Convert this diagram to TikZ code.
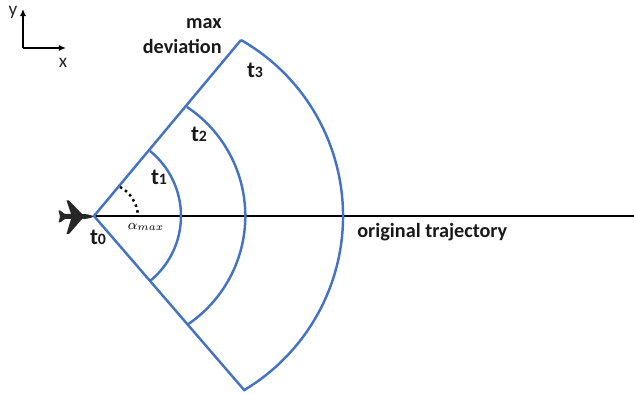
\documentclass[tikz,border=0pt]{standalone}
\usepackage{fontspec}
\setmainfont{Carlito}
\usetikzlibrary{arrows.meta}
\definecolor{sectorblue}{RGB}{68,114,196}
\tikzset{
  sector/.style={draw=sectorblue,line width=1.4pt},
  label/.style={font=\fontsize{11.5}{14.5}\selectfont\bfseries,inner sep=0pt,text=black!90},
  timelabel/.style={font=\fontsize{13}{15}\selectfont\bfseries,inner sep=0pt,text=black!90},
  axislabel/.style={font=\fontsize{11}{13}\selectfont,inner sep=0pt,text=black!85}
}
\newcommand{\tlabel}[1]{t{\fontsize{9}{10}\selectfont #1}}
\begin{document}
\begin{tikzpicture}[x=0.02cm,y=-0.02cm]
  \useasboundingbox (0,0) rectangle (634,394);
  \coordinate (O) at (94,216);
  \coordinate (T1) at (150,151);
  \coordinate (T2) at (187,107);
  \coordinate (T3) at (241,40);
  \coordinate (B3) at (245,391);
  \coordinate (E) at (634,216);
  \coordinate (DotA) at (120,187);
  \coordinate (DotB) at (138,215);
  \coordinate (Corner) at (23,48);
  \coordinate (AxisY) at (23,9);
  \coordinate (AxisX) at (66,48);
  % trajectory and plane
  \draw[line width=1.4pt] (O) -- (E);
  \fill[black!85] (94,216.5) .. controls (90,214.5) and (86,214) .. (82,214)
    -- (69,200.5) -- (66.5,200.5) -- (71,214) -- (65,214) -- (60,210.5) -- (58.5,210.5)
    -- (60,216.5) -- (58.5,222.5) -- (60,222.5) -- (65,219) -- (71,219)
    -- (66.5,234) -- (69,234) -- (82,219) .. controls (86,219) and (90,218.5) .. (94,216.5) -- cycle;
  % sector
  \draw[sector] (B3) -- (O) -- (T3);
  \draw[sector] (T1) arc[start angle=-51,end angle=51,radius=83.6];
  \draw[sector] (T2) arc[start angle=-56.3,end angle=56.3,radius=131];
  \draw[sector] (T3) arc[start angle=-60.2,end angle=59.2,radius=202.8];
  \draw[line width=1.4pt,dotted] (DotA) .. controls (130,192) and (137,203) .. (DotB);
  % axes
  \draw[-{Latex[length=4pt,width=3.5pt]},line width=0.9pt] (Corner) -- (AxisY);
  \draw[-{Latex[length=4pt,width=3.5pt]},line width=0.9pt] (Corner) -- (AxisX);
  \node[axislabel] (ylab) at (13,12) {y};
  \node[axislabel] (xlab) at (63,63) {x};
  % labels
  \node[label,align=right,anchor=east] (dev) at (222,36) {max\\deviation};
  \node[timelabel] (t0) at (98,237) {\tlabel{0}};
  \node[timelabel] (t1) at (159,177) {\tlabel{1}};
  \node[timelabel] (t2) at (199,134) {\tlabel{2}};
  \node[timelabel] (t3) at (255,70) {\tlabel{3}};
  \node[inner sep=0pt,font=\fontsize{8.5}{10}\selectfont] (amax) at (146,227) {$\alpha_{max}$};
  \node[label,anchor=west] (orig) at (357,232) {original trajectory};
\end{tikzpicture}
\end{document}
